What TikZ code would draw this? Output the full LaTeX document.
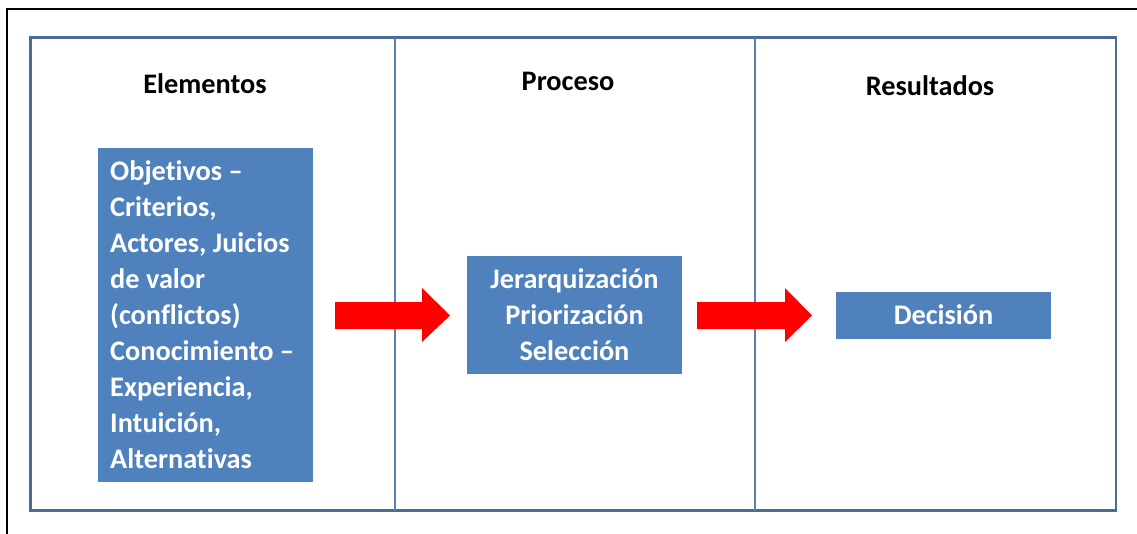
\documentclass[tikz,border=0pt]{standalone}
\usepackage{fontspec}
\setmainfont{Carlito}[Ligatures={NoCommon}]
\definecolor{boxblue}{RGB}{79,129,189}
\definecolor{frameblue}{RGB}{74,106,152}
\definecolor{divblue}{RGB}{86,128,182}
\definecolor{arrowred}{RGB}{255,0,0}
\tikzset{
  bluebox/.style={fill=boxblue, draw=none, text=white, font=\bfseries\fontsize{28.3}{36}\selectfont, inner sep=0pt},
  heading/.style={font=\bfseries\fontsize{28.3}{34}\selectfont, text=black, inner sep=0pt},
  bigarrow/.style={fill=arrowred, draw=none}
}
\begin{document}
\begin{tikzpicture}[x=1pt,y=-1pt]
\useasboundingbox (0,0) rectangle (1137,533);
% outer black border (only top and left visible)
\draw[black, line width=2pt] (6.5,540) -- (6.5,8.5) -- (1145,8.5);
% frame
\draw[frameblue, line width=2.8pt] (30.5,37.5) rectangle (1116,510.5);
\draw[divblue, line width=2pt] (395,37.5) -- (395,510.5);
\draw[divblue, line width=2pt] (755,37.5) -- (755,510.5);
% headings
\node[heading] (h1) at (205,84) {Elementos};
\node[heading] (h2) at (568,81) {Proceso};
\node[heading] (h3) at (930,86) {Resultados};
% boxes
\node[bluebox, minimum width=215pt, minimum height=334pt] (b1) at (205.5,315) {};
\node[bluebox, anchor=west, align=left] (t1) at (110,315) {Objetivos –\\Criterios,\\Actores, Juicios\\de valor\\(conflictos)\\Conocimiento –\\Experiencia,\\Intuición,\\Alternativas};
\node[bluebox, minimum width=215pt, minimum height=118pt, align=center] (b2) at (574.5,315) {Jerarquización\\Priorización\\Selección};
\node[bluebox, minimum width=215pt, minimum height=47pt] (b3) at (943.5,315) {Decisión};
% arrows
\fill[bigarrow] (335,302) -- (422,302) -- (422,288) -- (450,315.5) -- (422,342) -- (422,329) -- (335,329) -- cycle;
\fill[bigarrow] (697,302) -- (785,302) -- (785,288) -- (812,315.5) -- (785,342) -- (785,329) -- (697,329) -- cycle;
\end{tikzpicture}
\end{document}
